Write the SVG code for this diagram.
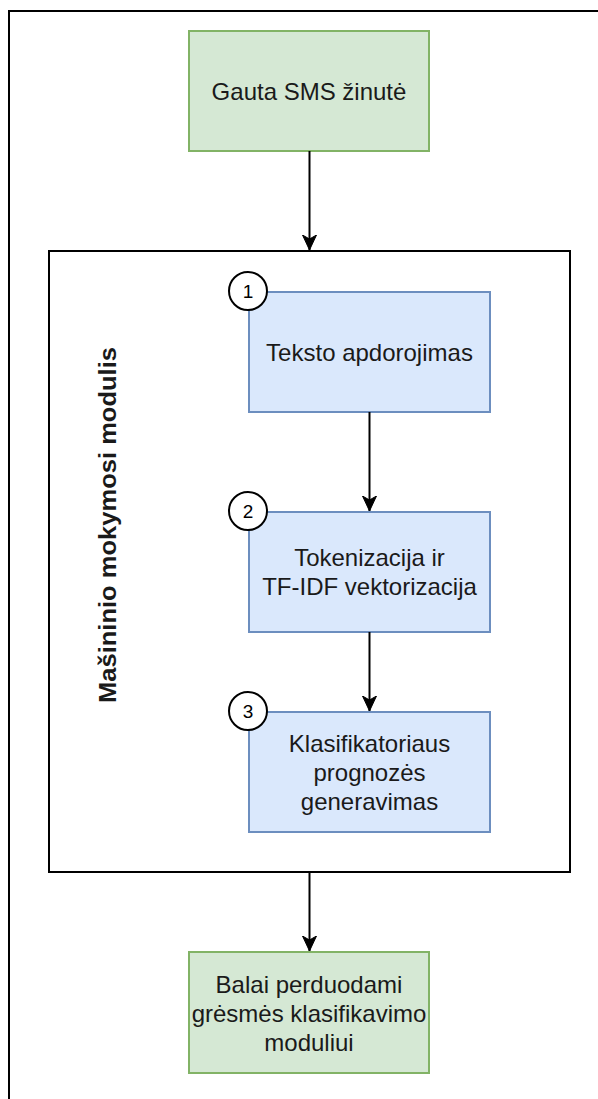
<svg xmlns="http://www.w3.org/2000/svg" width="598" height="1099" viewBox="0 0 598 1099">
  <style>
    .lbl { font-family: "Liberation Sans", Arial, sans-serif; font-size: 24px; fill: #1a1a1a; text-anchor: middle; }
    .num { font-family: "Liberation Sans", Arial, sans-serif; font-size: 19px; fill: #000; text-anchor: middle; }
    .green { fill: #d5e8d4; stroke: #82b366; stroke-width: 2; }
    .blue { fill: #dae8fc; stroke: #6c8ebf; stroke-width: 2; }
    .badge { fill: #ffffff; stroke: #000; stroke-width: 2; }
    .edge { fill: none; stroke: #000; stroke-width: 2; }
  </style>
  <defs>
    <marker id="arrow" viewBox="0 0 16 16" refX="15" refY="8" markerWidth="16" markerHeight="16" markerUnits="userSpaceOnUse" orient="auto">
      <path d="M15,8 L0,1 L4,8 L0,15 Z" fill="#000" stroke="#000" stroke-width="1" stroke-linejoin="miter"/>
    </marker>
  </defs>

  <rect width="598" height="1099" fill="#ffffff"/>

  <!-- outer page frame, continues past the right and bottom edges -->
  <rect id="frame" x="9" y="11" width="620" height="1120" fill="none" stroke="#000" stroke-width="2"/>

  <g id="sms-received">
    <rect class="green" x="189" y="31" width="240" height="120"/>
    <text class="lbl" x="309" y="99.5">Gauta SMS žinutė</text>
  </g>

  <g id="ml-module">
    <rect x="49" y="251" width="521" height="621" fill="#ffffff" stroke="#000" stroke-width="2"/>
    <text class="lbl" transform="translate(107,525) rotate(-90)" y="9" font-weight="bold" font-size="25" textLength="356" lengthAdjust="spacingAndGlyphs">Mašininio mokymosi modulis</text>
  </g>

  <g id="step1">
    <rect class="blue" x="249" y="292" width="241" height="120"/>
    <text class="lbl" x="369.5" y="360.5">Teksto apdorojimas</text>
    <circle class="badge" cx="248" cy="291" r="19"/>
    <text class="num" x="248" y="298">1</text>
  </g>

  <g id="step2">
    <rect class="blue" x="249" y="512" width="241" height="120"/>
    <text class="lbl" x="369.5" y="566">Tokenizacija ir</text>
    <text class="lbl" x="369.5" y="595">TF-IDF vektorizacija</text>
    <circle class="badge" cx="248" cy="511" r="19"/>
    <text class="num" x="248" y="518">2</text>
  </g>

  <g id="step3">
    <rect class="blue" x="249" y="712" width="241" height="120"/>
    <text class="lbl" x="369.5" y="752">Klasifikatoriaus</text>
    <text class="lbl" x="369.5" y="781">prognozės</text>
    <text class="lbl" x="369.5" y="810">generavimas</text>
    <circle class="badge" cx="248" cy="711" r="19"/>
    <text class="num" x="248" y="718">3</text>
  </g>

  <g id="scores-forwarded">
    <rect class="green" x="189" y="952" width="240" height="121"/>
    <text class="lbl" x="309" y="993">Balai perduodami</text>
    <text class="lbl" x="309" y="1022">grėsmės klasifikavimo</text>
    <text class="lbl" x="309" y="1051">moduliui</text>
  </g>

  <g id="connectors">
    <line class="edge" x1="309.5" y1="151" x2="309.5" y2="250" marker-end="url(#arrow)"/>
    <line class="edge" x1="369.5" y1="412" x2="369.5" y2="511" marker-end="url(#arrow)"/>
    <line class="edge" x1="369.5" y1="632" x2="369.5" y2="711" marker-end="url(#arrow)"/>
    <line class="edge" x1="309.5" y1="872" x2="309.5" y2="951" marker-end="url(#arrow)"/>
  </g>
</svg>
